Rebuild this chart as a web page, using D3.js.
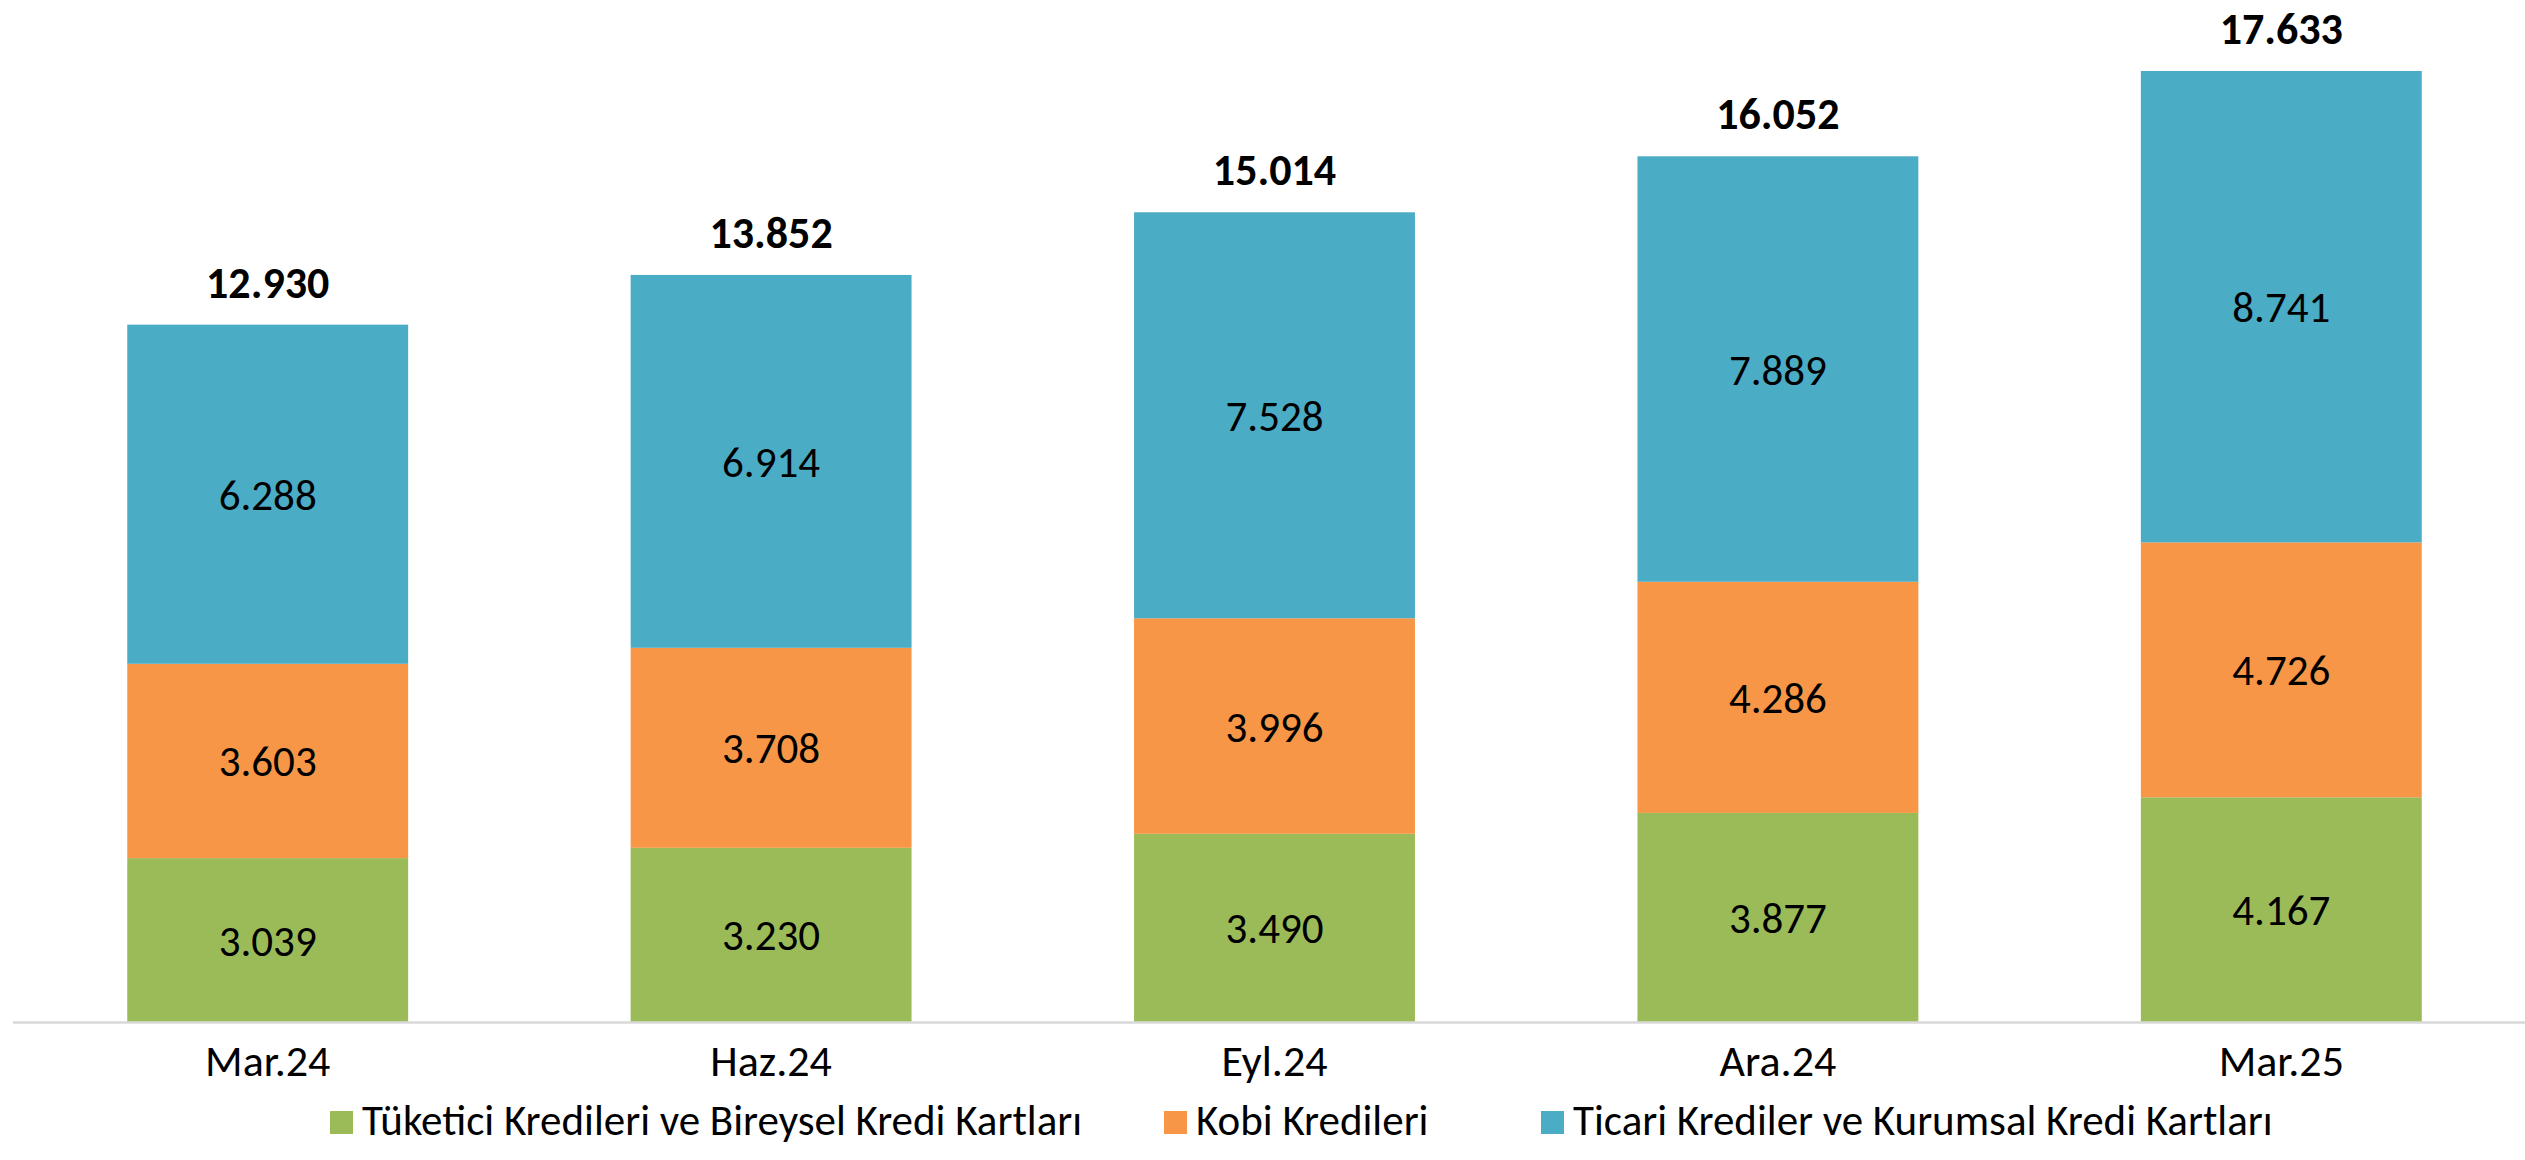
<!DOCTYPE html>
<html>
<head>
<meta charset="utf-8">
<script src="https://cdn.jsdelivr.net/npm/d3@7"></script>
<style>
  body { margin: 0; background: #fff; }
  text { font-family: Carlito, Lato, sans-serif; fill: #000; }
</style>
</head>
<body>
<script>
// data
var categories = ["Mar.24", "Haz.24", "Eyl.24", "Ara.24", "Mar.25"];
var seriesNames = ["Tüketici Kredileri ve Bireysel Kredi Kartları", "Kobi Kredileri", "Ticari Krediler ve Kurumsal Kredi Kartları"];
var tuketici = [3039, 3230, 3490, 3877, 4167];
var kobi = [3603, 3708, 3996, 4286, 4726];
var ticari = [6288, 6914, 7528, 7889, 8741];
var totals = [12930, 13852, 15014, 16052, 17633];
var colors = ["#9BBB59", "#F79646", "#4BACC6"];

function init() {
  var width = 2525, height = 1160;

  var trLocale = d3.formatLocale({decimal: ",", thousands: ".", grouping: [3], currency: ["", ""]});
  var fmt = trLocale.format(",d");

  var rows = categories.map(function(c, i) {
    return {cat: c, s0: tuketici[i], s1: kobi[i], s2: ticari[i], total: totals[i]};
  });

  var x = d3.scaleBand()
    .domain(categories)
    .range([16, 2533])
    .paddingInner(0.442)
    .paddingOuter(0.221);

  var y = d3.scaleLinear()
    .domain([0, 18950])
    .range([1022, 0]);

  var stack = d3.stack().keys(["s0", "s1", "s2"]);
  var layers = stack(rows);

  var svg = d3.select("body").append("svg")
    .attr("width", width)
    .attr("height", height);

  // bars
  var layer = svg.selectAll(".layer")
    .data(layers)
    .enter().append("g")
      .attr("class", "layer")
      .attr("fill", function(d, i) { return colors[i]; });

  layer.selectAll("rect")
    .data(function(d) { return d; })
    .enter().append("rect")
      .attr("x", function(d) { return x(d.data.cat); })
      .attr("y", function(d) { return y(d[1]); })
      .attr("width", x.bandwidth())
      .attr("height", function(d) { return y(d[0]) - y(d[1]); });

  // segment labels
  layer.selectAll("text")
    .data(function(d) { return d; })
    .enter().append("text")
      .attr("x", function(d) { return x(d.data.cat) + x.bandwidth() / 2; })
      .attr("y", function(d) { return (y(d[0]) + y(d[1])) / 2; })
      .attr("dy", "0.36em")
      .attr("text-anchor", "middle")
      .style("font-size", "43px")
      .text(function(d) { return fmt(d[1] - d[0]); });

  // total labels
  svg.selectAll(".total")
    .data(rows)
    .enter().append("text")
      .attr("class", "total")
      .attr("x", function(d) { return x(d.cat) + x.bandwidth() / 2; })
      .attr("y", function(d) { return y(d.s0 + d.s1 + d.s2) - 27; })
      .attr("text-anchor", "middle")
      .style("font-size", "44px")
      .style("font-weight", "bold")
      .text(function(d) { return fmt(d.total); });

  // category axis
  var xAxis = d3.axisBottom(x).tickSize(0).tickPadding(0);
  var gx = svg.append("g")
    .attr("transform", "translate(0," + y(0) + ")")
    .call(xAxis);
  gx.select(".domain")
    .attr("d", "M13,0.5H2525")
    .attr("stroke", "#D9D9D9")
    .attr("stroke-width", 2.5);
  gx.selectAll(".tick text")
    .attr("y", 54)
    .attr("dy", 0)
    .style("font-size", "44px")
    .style("font-family", "Carlito, Lato, sans-serif")
    .attr("fill", "#000");

  // legend, swatches placed where the reference has them
  var legendX = [330, 1164, 1541];
  var legend = svg.append("g")
    .attr("class", "legend")
    .attr("transform", "translate(0,1135)");
  seriesNames.forEach(function(name, i) {
    var item = legend.append("g").attr("transform", "translate(" + legendX[i] + ",0)");
    item.append("rect")
      .attr("x", 0).attr("y", -24)
      .attr("width", 23).attr("height", 23)
      .attr("fill", colors[i]);
    item.append("text")
      .attr("x", 32).attr("y", 0)
      .style("font-size", "43px")
      .text(name);
  });
}
window.onload = init;
</script>
</body>
</html>
